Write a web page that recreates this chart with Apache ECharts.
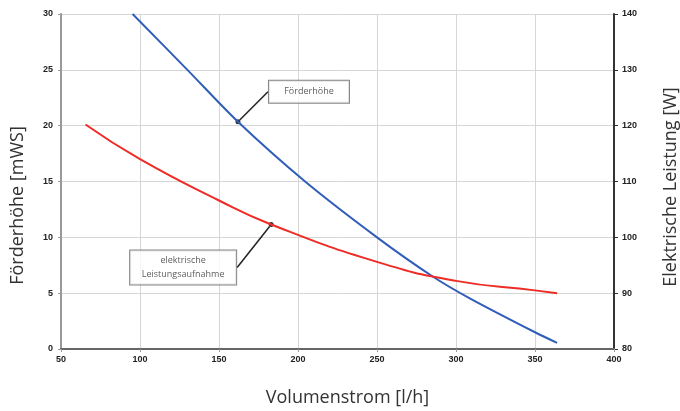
<!DOCTYPE html>
<html>
<head>
<meta charset="utf-8">
<script src="https://cdn.jsdelivr.net/npm/echarts@6/dist/echarts.min.js"></script>
<style>
  html, body { margin: 0; padding: 0; background: #fff; }
  #chart { width: 680px; height: 411px; }
</style>
</head>
<body>
<div id="chart"></div>
<script>
// Förderhöhe (linke Achse, mWS)
const volumenHoehe = [95.3, 130, 162, 204.5, 250, 285.5, 308.7, 350, 364]
const foerderhoehe = [30, 25, 20.35, 15, 10, 6.47, 4.54, 1.5, 0.55]
// elektrische Leistungsaufnahme (rechte Achse, W)
const volumenLeistung = [65.5, 100, 150, 183, 250, 300, 350, 364]
const leistung = [120.2, 114.0, 106.6, 102.3, 95.6, 92.2, 90.5, 90.0]
// markierte Punkte der Beschriftungen
const markHoehe = [162, 20.35]
const markLeistung = [183, 102.3]

const tickFont = { fontFamily: 'Liberation Sans', fontSize: 9, fontWeight: 'bold', color: '#222' }
const nameFont = { fontFamily: 'Open Sans', fontSize: 18, color: '#333' }
const boxLabel = {
    show: true,
    fontFamily: 'Open Sans',
    fontSize: 9,
    color: '#333',
    backgroundColor: '#fff',
    borderColor: '#666',
    borderWidth: 1,
    align: 'center',
    verticalAlign: 'middle',
    lineHeight: 14
}

const chart = echarts.init(document.getElementById('chart'))
chart.setOption({
    animation: false,
    grid: { left: 61, right: 66, top: 14, bottom: 62, outerBoundsMode: 'none' },
    xAxis: {
        type: 'value',
        min: 50, max: 400, interval: 50,
        name: 'Volumenstrom [l/h]',
        nameLocation: 'middle',
        nameGap: 40,
        nameTextStyle: Object.assign({ padding: [0, 0, 0, 20] }, nameFont),
        axisLine: { lineStyle: { color: '#666', width: 2 } },
        axisTick: { show: true, length: 3, lineStyle: { color: '#999' } },
        axisLabel: Object.assign({ margin: 6 }, tickFont),
        splitLine: { show: true, lineStyle: { color: '#d6d6d6', width: 1 } }
    },
    yAxis: [
        {
            type: 'value',
            min: 0, max: 30, interval: 5,
            name: 'Förderhöhe [mWS]',
            nameLocation: 'middle',
            nameRotate: 90,
            nameGap: 34,
            nameTextStyle: Object.assign({ padding: [0, 0, 0, -48] }, nameFont),
            axisLine: { show: true, lineStyle: { color: '#999', width: 2 } },
            axisTick: { show: true, length: 3, lineStyle: { color: '#999' } },
            axisLabel: Object.assign({ margin: 8 }, tickFont),
            splitLine: { show: true, lineStyle: { color: '#d6d6d6', width: 1 } }
        },
        {
            type: 'value',
            position: 'right',
            min: 80, max: 140, interval: 10,
            name: 'Elektrische Leistung [W]',
            nameLocation: 'middle',
            nameRotate: 90,
            nameGap: 48,
            nameTextStyle: Object.assign({ padding: [0, 0, 0, -11] }, nameFont),
            axisLine: { show: true, lineStyle: { color: '#333', width: 2 } },
            axisTick: { show: true, length: 4, lineStyle: { color: '#333' } },
            axisLabel: Object.assign({ margin: 8 }, tickFont),
            splitLine: { show: false }
        }
    ],
    series: [
        {
            type: 'line',
            yAxisIndex: 0,
            data: volumenHoehe.map((x, i) => [x, foerderhoehe[i]]),
            smooth: 0.3,
            showSymbol: false,
            lineStyle: { color: '#2f5db8', width: 2 }
        },
        {
            type: 'line',
            yAxisIndex: 1,
            data: volumenLeistung.map((x, i) => [x, leistung[i]]),
            smooth: 0.5,
            showSymbol: false,
            lineStyle: { color: '#ee2b25', width: 2 }
        },
        {
            type: 'scatter',
            yAxisIndex: 0,
            symbolSize: 5,
            itemStyle: { color: '#000' },
            data: [markHoehe],
            label: Object.assign({ formatter: 'Förderhöhe', width: 72, height: 16, padding: [3, 4] }, boxLabel),
            labelLayout: { dx: 71, dy: -30 },
            labelLine: { show: true, lineStyle: { color: '#222', width: 1.5 } }
        },
        {
            type: 'scatter',
            yAxisIndex: 1,
            symbolSize: 5,
            itemStyle: { color: '#000' },
            data: [markLeistung],
            label: Object.assign({ formatter: 'elektrische\nLeistungsaufnahme', width: 98, padding: [3, 4] }, boxLabel),
            labelLayout: { dx: -88, dy: 43 },
            labelLine: { show: true, lineStyle: { color: '#222', width: 1.5 } }
        }
    ]
})
</script>
</body>
</html>
